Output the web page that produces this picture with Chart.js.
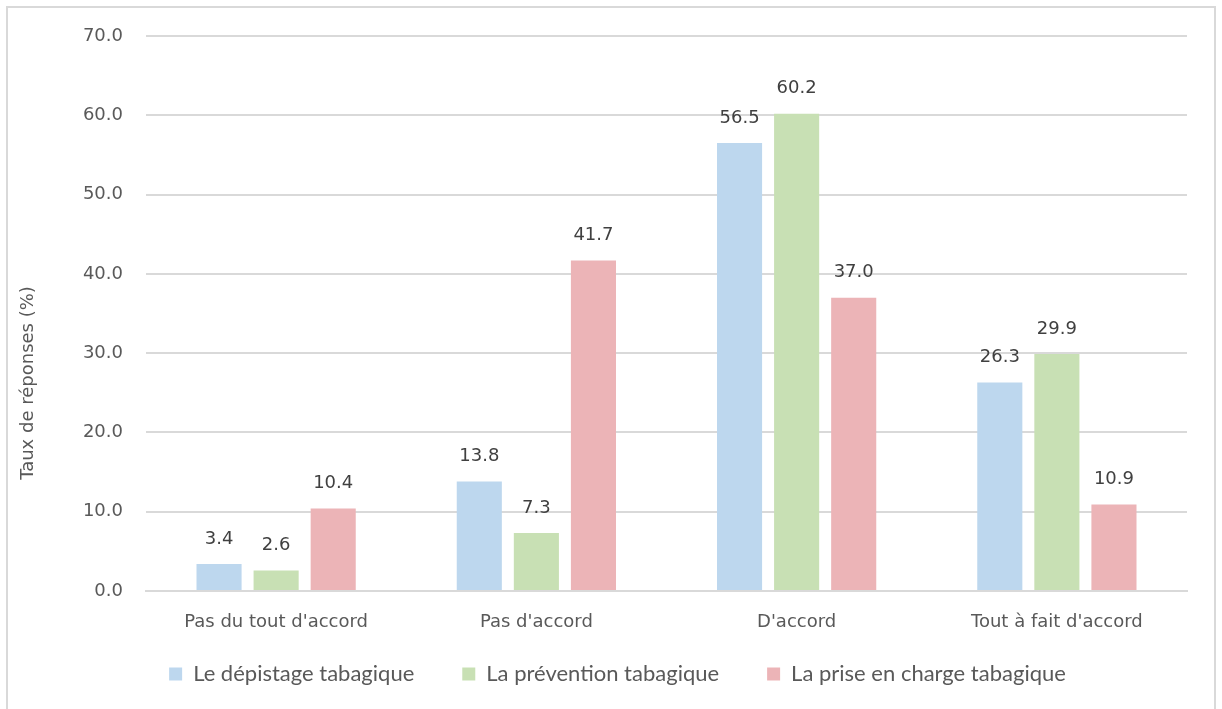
<!DOCTYPE html>
<html>
<head>
<meta charset="utf-8">
<script src="https://cdn.jsdelivr.net/npm/chart.js@4/dist/chart.umd.min.js"></script>
<style>
  html, body { margin: 0; padding: 0; background: #ffffff; }
  #frame {
    position: absolute; left: 6px; top: 6px; width: 1210px; height: 720px;
    border: 2px solid #d9d9d9; box-sizing: border-box;
  }
  #wrap { position: absolute; left: 0; top: 0; width: 1222px; height: 709px; }
</style>
</head>
<body>
<div id="frame"></div>
<div id="wrap"><canvas id="c" width="1222" height="709"></canvas></div>
<script>
// Answer categories and percentages per topic
const categories = ["Pas du tout d'accord", "Pas d'accord", "D'accord", "Tout à fait d'accord"];
const depistage = [3.4, 13.8, 56.5, 26.3];
const prevention = [2.6, 7.3, 60.2, 29.9];
const priseEnCharge = [10.4, 41.7, 37.0, 10.9];
const seriesNames = ["Le dépistage tabagique", "La prévention tabagique", "La prise en charge tabagique"];
const yTicks = [0, 10, 20, 30, 40, 50, 60, 70];
const yTitle = 'Taux de réponses (%)';

const TEXT = '#595959';
const FONT = "'DejaVu Sans', sans-serif";
const LEGEND_FONT = "Lato, 'Open Sans', sans-serif";
const LEGEND_SIZE = 22;
const LEGEND_GAP = 48;
const LEGEND_ROW_TOP = 663;
const LEGEND_SHIFT_X = 24;

// Writes each bar's value just above it, and the rotated y-axis title
const annotations = {
  id: 'annotations',
  beforeInit(chart) {
    // the wide item spacing also pads the legend vertically; keep the row compact
    const legend = chart.legend;
    const fit = legend.fit;
    legend.fit = function () {
      fit.call(this);
      this.height = 30;
    };
    const draw = legend.draw;
    legend.draw = function () {
      const { top, left, right } = this;
      this.top = LEGEND_ROW_TOP - LEGEND_GAP;
      this.left = left + LEGEND_SHIFT_X;
      this.right = right + LEGEND_SHIFT_X;
      draw.call(this);
      this.top = top;
      this.left = left;
      this.right = right;
    };
  },
  afterDatasetsDraw(chart) {
    const ctx = chart.ctx;
    ctx.save();
    ctx.font = '18px ' + FONT;
    ctx.fillStyle = '#404040';
    ctx.textAlign = 'center';
    ctx.textBaseline = 'middle';
    chart.data.datasets.forEach((ds, i) => {
      chart.getDatasetMeta(i).data.forEach((bar, j) => {
        ctx.fillText(ds.data[j].toFixed(1), bar.x, bar.y - 25);
      });
    });
    ctx.translate(28, 383);
    ctx.rotate(-Math.PI / 2);
    ctx.fillStyle = TEXT;
    ctx.fillText(yTitle, 0, 0);
    ctx.restore();
  }
};

new Chart(document.getElementById('c'), {
  type: 'bar',
  data: {
    labels: categories,
    datasets: [
      { label: seriesNames[0], data: depistage, backgroundColor: '#bdd7ee' },
      { label: seriesNames[1], data: prevention, backgroundColor: '#c8e0b4' },
      { label: seriesNames[2], data: priseEnCharge, backgroundColor: '#ecb4b7' }
    ]
  },
  options: {
    responsive: false,
    animation: false,
    layout: { padding: { left: 0, right: 35, top: 36, bottom: 20 } },
    datasets: { bar: { categoryPercentage: 0.658, barPercentage: 0.79 } },
    plugins: {
      tooltip: { enabled: false },
      legend: {
        position: 'bottom',
        labels: {
          color: TEXT,
          font: { family: LEGEND_FONT, size: LEGEND_SIZE },
          boxWidth: 13,
          boxHeight: 13,
          padding: LEGEND_GAP
        }
      }
    },
    scales: {
      x: {
        afterFit(scale) { scale.height = 68; },
        grid: { display: false, drawTicks: false },
        border: { display: true, color: '#d9d9d9', width: 2 },
        ticks: { color: TEXT, font: { family: FONT, size: 18 }, padding: 21 }
      },
      y: {
        min: 0, max: 70,
        afterBuildTicks(scale) { scale.ticks = yTicks.map(v => ({ value: v })); },
        afterFit(scale) { scale.width = 146; },
        grid: { color: '#d9d9d9', lineWidth: 2, drawTicks: false },
        border: { display: false },
        ticks: {
          color: TEXT, font: { family: FONT, size: 18 }, padding: 23,
          callback: v => v.toFixed(1)
        }
      }
    }
  },
  plugins: [annotations]
});
</script>
</body>
</html>
